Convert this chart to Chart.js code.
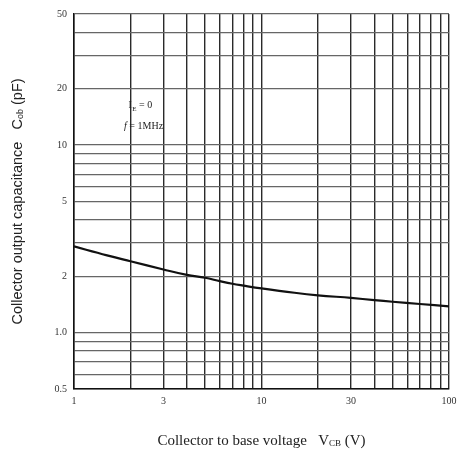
<!DOCTYPE html>
<html>
<head>
<meta charset="utf-8">
<script src="https://cdn.jsdelivr.net/npm/chart.js@4.4.0/dist/chart.umd.min.js"></script>
<style>
  html, body { margin: 0; padding: 0; background: #fff; }
  #wrap { width: 458px; height: 450px; position: relative; }
</style>
</head>
<body>
<div id="wrap"><canvas id="c"></canvas></div>
<script>
// ── Data (Cob vs VCB) ──
const vcb = [1, 1.5, 2, 3, 4, 5, 6, 7, 8, 10, 15, 20, 30, 40, 50, 70, 100];
const cob = [2.88, 2.58, 2.4, 2.17, 2.03, 1.96, 1.88, 1.82, 1.78, 1.72, 1.63, 1.58, 1.53, 1.49, 1.46, 1.42, 1.38];

// ── Axis ticks / grid ──
const xGrid = [1, 2, 3, 4, 5, 6, 7, 8, 9, 10, 20, 30, 40, 50, 60, 70, 80, 90, 100];
const xLabels = [1, 3, 10, 30, 100];
const yGrid = [0.5, 0.6, 0.7, 0.8, 0.9, 1, 2, 3, 4, 5, 6, 7, 8, 9, 10, 20, 30, 40, 50];
const yLabels = { 0.5: '0.5', 1: '1.0', 2: '2', 5: '5', 10: '10', 20: '20', 50: '50' };

const serif = '"Liberation Serif", "DejaVu Serif", serif';
const sans = '"Liberation Sans", "DejaVu Sans", sans-serif';

// draws "main + subscript + tail" runs centred on current origin
function drawRuns(ctx, runs, font, subFont) {
  let w = 0;
  runs.forEach(r => { ctx.font = r.sub ? subFont : font; w += ctx.measureText(r.t).width; });
  let x = -w / 2;
  runs.forEach(r => {
    ctx.font = r.sub ? subFont : font;
    ctx.fillText(r.t, x, r.sub ? 3 : 0);
    x += ctx.measureText(r.t).width;
  });
}

// ── Titles and in-plot notes ──
const titlePlugin = {
  id: 'titles',
  afterDraw(chart) {
    const { ctx, chartArea: a, scales: { x, y } } = chart;
    ctx.save();
    ctx.fillStyle = '#222';
    ctx.textBaseline = 'middle';

    // x title
    ctx.save();
    ctx.translate((a.left + a.right) / 2, 441);
    drawRuns(ctx, [{ t: 'Collector to base voltage   V' }, { t: 'CB', sub: true }, { t: ' (V)' }],
      '15px ' + serif, '9px ' + serif);
    ctx.restore();

    // y title
    ctx.save();
    ctx.translate(18, (a.top + a.bottom) / 2);
    ctx.rotate(-Math.PI / 2);
    drawRuns(ctx, [{ t: 'Collector output capacitance   C' }, { t: 'ob', sub: true }, { t: ' (pF)' }],
      '14.5px ' + sans, '9px ' + sans);
    ctx.restore();

    // condition notes
    ctx.textAlign = 'left';
    let px = x.getPixelForValue(1.95), py = y.getPixelForValue(16.2);
    ctx.font = '10px ' + serif;
    ctx.fillText('I', px, py);
    let w = ctx.measureText('I').width + 0.5;
    ctx.font = '7px ' + serif;
    ctx.fillText('E', px + w, py + 3);
    w += ctx.measureText('E').width;
    ctx.font = '10px ' + serif;
    ctx.fillText(' = 0', px + w, py);

    px = x.getPixelForValue(1.85); py = y.getPixelForValue(12.6);
    ctx.font = 'italic 10px ' + serif;
    ctx.fillText('f', px, py);
    w = ctx.measureText('f').width;
    ctx.font = '10px ' + serif;
    ctx.fillText(' = 1MHz', px + w, py);
    ctx.restore();
  }
};

new Chart(document.getElementById('c'), {
  type: 'line',
  data: {
    datasets: [{
      data: vcb.map((v, i) => ({ x: v, y: cob[i] })),
      borderColor: '#111',
      borderWidth: 2.2,
      pointRadius: 0,
      tension: 0.4,
      fill: false,
    }]
  },
  options: {
    responsive: true,
    maintainAspectRatio: false,
    animation: false,
    layout: { padding: { top: 14, right: 9, bottom: 37, left: 0 } },
    plugins: { legend: { display: false }, tooltip: { enabled: false } },
    scales: {
      x: {
        type: 'logarithmic',
        min: 1, max: 100,
        afterBuildTicks: s => { s.ticks = xGrid.map(v => ({ value: v })); },
        // let the "100" label hang past the plot edge as in the original
        afterFit: s => { s.paddingLeft = 0; s.paddingRight = 0; },
        ticks: {
          autoSkip: false, maxRotation: 0, padding: 6,
          color: '#333', font: { family: serif, size: 10 },
          callback: v => xLabels.includes(v) ? String(v) : '',
        },
        grid: { color: '#2a2a2a', lineWidth: 1.4, drawTicks: false },
        border: { color: '#111', width: 1.5 },
      },
      y: {
        type: 'logarithmic',
        min: 0.5, max: 50,
        afterBuildTicks: s => { s.ticks = yGrid.map(v => ({ value: v })); },
        afterFit: s => { s.width = 74; },
        ticks: {
          autoSkip: false, padding: 7,
          color: '#333', font: { family: serif, size: 10 },
          callback: v => yLabels[v] || '',
        },
        grid: { color: '#666', lineWidth: 1.2, drawTicks: false },
        border: { color: '#111', width: 1.5 },
      }
    }
  },
  plugins: [titlePlugin]
});
</script>
</body>
</html>
